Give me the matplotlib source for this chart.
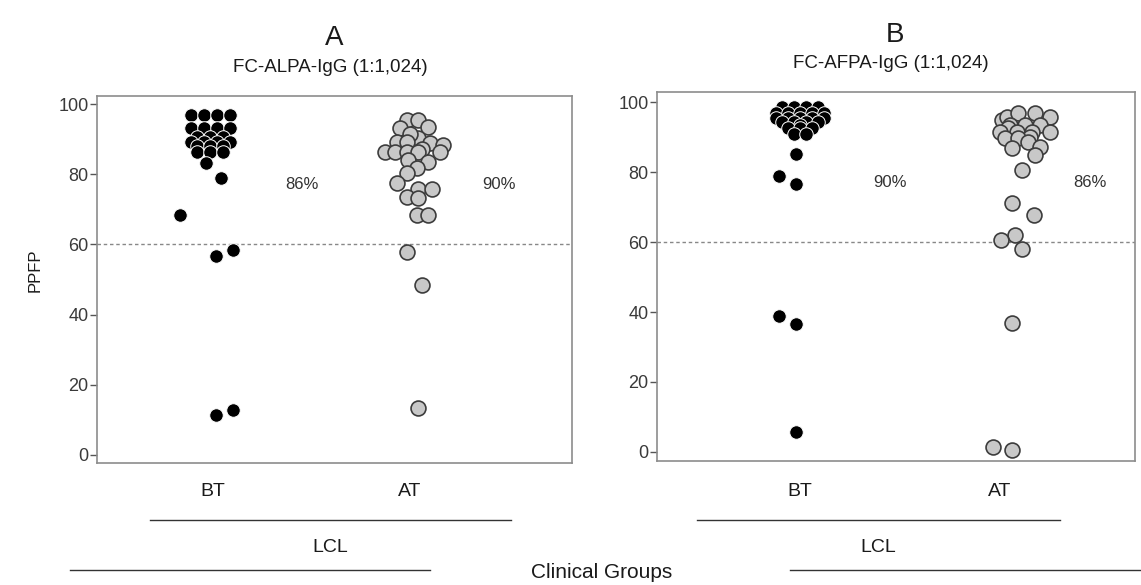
import numpy as np
import matplotlib
matplotlib.use("Agg")
import matplotlib.pyplot as plt
from matplotlib.lines import Line2D

plt.rcParams["font.family"] = ["Liberation Sans", "DejaVu Sans"]

# ---- data (PPFP values, horizontal offset in px within the group) ----
groups = ["BT", "AT"]

a_bt_val = [96.9, 96.9, 96.9, 96.9, 93.2, 93.2, 93.2, 93.2, 90.5, 90.5, 90.5,
            89.2, 89.2, 89.2, 89.2, 88.0, 88.0, 88.0, 86.3, 86.3, 86.3,
            83.2, 79.0, 68.4, 58.4, 56.7, 12.8, 11.4]
a_bt_dx = [-22.5, -9.5, 3.5, 16.5, -22.5, -9.5, 3.5, 16.5, -16, -3, 10,
           -22.5, -9.5, 3.5, 16.5, -16, -3, 10, -16, -3, 10,
           -7, 8, -33, 20, 3, 20, 3]

a_at_val = [95.4, 95.4, 93.2, 93.4, 90.3, 91.5, 89.2, 89.2, 88.9, 88.3,
            87.3, 86.3, 86.3, 86.3, 86.3, 86.3, 84.0, 83.5, 81.8, 80.3,
            77.5, 75.8, 75.8, 73.5, 73.2, 68.4, 68.4, 57.8, 48.4, 13.4]
a_at_dx = [-3, 8, -10, 18, 8, 0, -13, -3, 20, 33,
           12, -25, -15, -3, 8, 30, -2, 18, 7, -3,
           -13, 8, 22, -3, 8, 7, 18, -3, 12, 8]

b_bt_val = [98.7, 98.7, 98.7, 98.7, 96.9, 96.9, 96.9, 96.9, 96.9,
            95.6, 95.6, 95.6, 95.6, 95.6, 94.2, 94.2, 94.2, 94.2, 93.4,
            92.6, 92.6, 92.6, 90.9, 90.9, 85.1, 78.9, 76.6, 38.9, 36.6, 5.7]
b_bt_dx = [-18, -6, 6, 18, -24, -12, 0, 12, 24,
           -24, -12, 0, 12, 24, -18, -6, 6, 18, 0,
           -12, 0, 12, -6, 6, -4, -21, -4, -21, -4, -4]

b_at_val = [94.9, 95.7, 96.9, 96.9, 95.7, 93.5, 93.5, 93.5, 92.5,
            91.4, 91.4, 91.4, 91.4, 90.0, 89.7, 89.7, 88.6, 86.9, 87.1,
            84.9, 80.6, 71.1, 67.7, 62.0, 60.6, 58.0, 36.9, 1.4, 0.6]
b_at_dx = [2, 7, 18, 35, 50, 10, 25, 40, 8,
           0, 17, 32, 50, 30, 5, 18, 28, 12, 40,
           35, 22, 12, 34, 15, 1, 22, 12, -7, 12]

panels = [
    dict(letter="A", title="FC-ALPA-IgG (1:1,024)", pct=["86%", "90%"],
         bt=(a_bt_val, a_bt_dx), at=(a_at_val, a_at_dx),
         rect=[97, 96, 572, 463], ylim=(-2.3, 102.3), xlim=(0.411, 2.822), ppu=197,
         head_x=334, head_y=(38, 67), lcl=(150, 511)),
    dict(letter="B", title="FC-AFPA-IgG (1:1,024)", pct=["90%", "86%"],
         bt=(b_bt_val, b_bt_dx), at=(b_at_val, b_at_dx),
         rect=[657, 92, 1135, 461], ylim=(-2.6, 102.9), xlim=(0.285, 2.675), ppu=200,
         head_x=895, head_y=(35, 63), lcl=(697, 1060)),
]

W, H = 1141, 585
fig = plt.figure(figsize=(W / 100, H / 100), dpi=100)
fig.patch.set_facecolor("white")


def fx(px):
    return px / W


def fy(py):
    return 1 - py / H


for p in panels:
    l, t, r, b = p["rect"]
    ax = fig.add_axes([fx(l), fy(b), (r - l) / W, (b - t) / H])
    ax.set_xlim(*p["xlim"]); ax.set_ylim(*p["ylim"])
    for s in ax.spines.values():
        s.set_color("#8c8c8c"); s.set_linewidth(1.2)
    ax.set_xticks([])
    ax.set_yticks([0, 20, 40, 60, 80, 100])
    ax.tick_params(axis="y", direction="out", length=5, width=1, color="#555555",
                   labelsize=13, labelcolor="#3a3a3a", pad=1)
    ax.axhline(60, color="#888888", lw=1, ls=(0, (2.5, 2)), zorder=1)

    v, d = p["bt"]
    ax.scatter(1 + np.array(d) / p["ppu"], v, s=95, c="black", edgecolors="white",
               linewidths=0.7, zorder=3)
    v, d = p["at"]
    ax.scatter(2 + np.array(d) / p["ppu"], v, s=115, c="#c8c8c8", edgecolors="#3c3c3c",
               linewidths=1.2, zorder=3)

    for xi, txt in zip([1.45, 2.45], p["pct"]):
        ax.text(xi, 77, txt, fontsize=12, color="#333333", ha="center", va="center")

    fig.text(fx(p["head_x"]), fy(p["head_y"][0]), p["letter"], fontsize=20,
             ha="center", va="center", color="#1a1a1a")
    fig.text(fx(p["head_x"] - 4), fy(p["head_y"][1]), p["title"], fontsize=13.5,
             ha="center", va="center", color="#1a1a1a")

    # group labels under each panel
    for k, g in enumerate(groups):
        gx = ax.transData.transform((k + 1, 0))[0]
        fig.text(gx / W, fy(492), g, fontsize=14, ha="center", va="center", color="#1a1a1a")
    x0, x1 = p["lcl"]
    fig.add_artist(Line2D([fx(x0), fx(x1)], [fy(520), fy(520)], color="#333333", lw=1))
    fig.text(fx((x0 + x1) / 2), fy(548), "LCL", fontsize=14, ha="center", va="center",
             color="#1a1a1a")

fig.text(fx(35), fy(270), "PPFP", rotation=90, fontsize=12, ha="center", va="center",
         color="#1a1a1a")
fig.text(fx(602), fy(572), "Clinical Groups", fontsize=15, ha="center", va="center",
         color="#1a1a1a")
fig.add_artist(Line2D([fx(70), fx(430)], [fy(570), fy(570)], color="#333333", lw=1))
fig.add_artist(Line2D([fx(790), fx(1141)], [fy(570), fy(570)], color="#333333", lw=1))

fig.savefig("out.png", dpi=100)
